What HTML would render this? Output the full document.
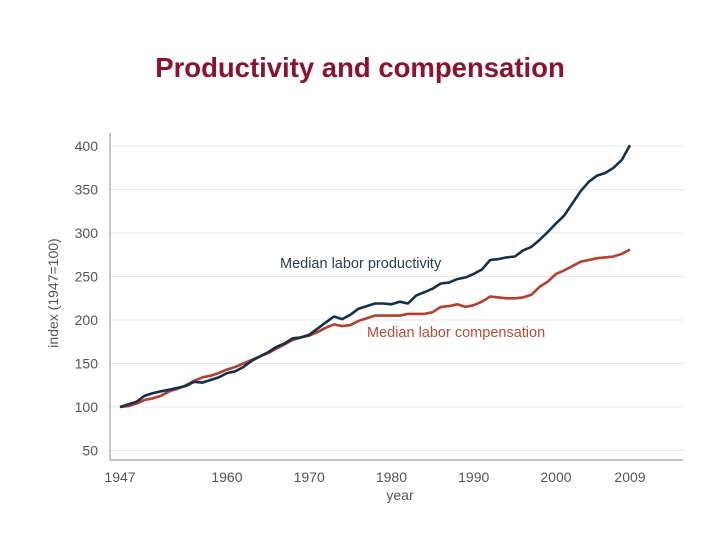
<!DOCTYPE html>
<html><head><meta charset="utf-8"><style>
body{margin:0;background:#fff;width:720px;height:540px;overflow:hidden;font-family:"Liberation Sans",sans-serif}
#title{position:absolute;left:0;width:720px;top:52px;text-align:center;font-weight:bold;font-size:27.5px;color:#8c1330}
svg{position:absolute;left:0;top:0}
</style></head><body>
<div id="title">Productivity and compensation</div>
<svg id="chart" width="720" height="540"></svg>
<script>
const years=[];for(let y=1947;y<=2009;y++)years.push(y);
const productivity=[100,103,106,113,116,118,120,122,124,129,128,131,134,139,141,146,153,158,163,169,173,179,180,183,190,197,204,201,206,213,216,219,219,218,221,219,228,232,236,242,243,247,249,253,258,269,270,272,273,280,284,292,301,311,320,334,348,359,366,369,375,384,401];
const compensation=[100,101,104,108,110,113,118,121,125,130,134,136,139,143,146,150,154,158,162,167,172,177,180,182,186,191,195,193,194,199,202,205,205,205,205,207,207,207,209,215,216,218,215,217,221,227,226,225,225,226,229,238,244,253,257,262,267,269,271,272,273,276,281];
const yTicks=[50,100,150,200,250,300,350,400];
const xTicks=[1947,1960,1970,1980,1990,2000,2009];
const NS="http://www.w3.org/2000/svg";
const svg=document.getElementById('chart');
const X=v=>120+(v-1947)*(510/62);
const Y=v=>407-(v-100)*(261/300);
function el(t,a,p){const e=document.createElementNS(NS,t);for(const k in a)e.setAttribute(k,a[k]);(p||svg).appendChild(e);return e;}
yTicks.forEach(t=>{
 const g=el('line',{x1:110,x2:683,y1:Y(t),y2:Y(t),stroke:'#e6e8ec','stroke-width':1});
 
 
 const l=el('text',{x:98,y:Y(t)+5,'text-anchor':'end','font-size':14,fill:'#555'});
 l.textContent=t;
 
 
});
const ya=el('line',{x1:110,x2:110,y1:133,y2:460,stroke:'#9aa3ad','stroke-width':1.2});


const xa=el('line',{x1:110,x2:683,y1:460,y2:460,stroke:'#9aa3ad','stroke-width':1.2});


xTicks.forEach(t=>{
 const l=el('text',{x:X(t),y:482,'text-anchor':'middle','font-size':14,fill:'#555'});
 l.textContent=t;
 
 
});
const xt=el('text',{x:400,y:500,'text-anchor':'middle','font-size':14,fill:'#555'});
xt.textContent='year';


const yt=el('text',{x:0,y:0,'text-anchor':'middle','font-size':14,fill:'#555',transform:'translate(58,293) rotate(-90)'});
yt.textContent='index (1947=100)';


function line(vals,color,name){
 const d=vals.map((v,i)=>(i?'L':'M')+X(years[i]).toFixed(1)+','+Y(v).toFixed(1)).join('');
 const p=el('path',{d:d,fill:'none',stroke:color,'stroke-width':2.6,'stroke-linejoin':'round'});
 
 
}
line(compensation,'#b73e2c','compensation-line');
line(productivity,'#15304f','productivity-line');
const l1=el('text',{x:280,y:268,'font-size':14.5,fill:'#2a3b52'});
l1.textContent='Median labor productivity';


const l2=el('text',{x:367,y:337,'font-size':14.5,fill:'#b94a38'});
l2.textContent='Median labor compensation';


</script>
</body></html>
